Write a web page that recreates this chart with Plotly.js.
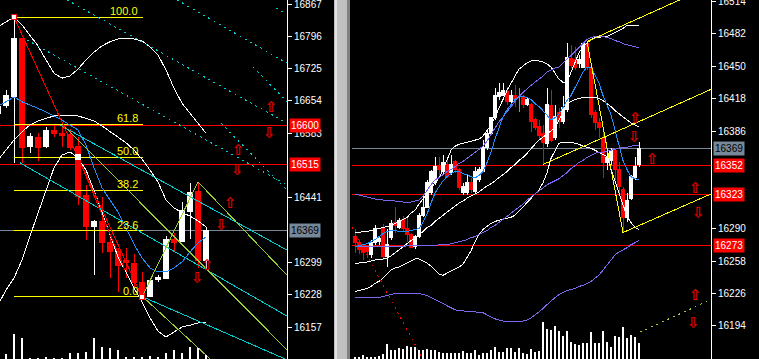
<!DOCTYPE html>
<html><head><meta charset="utf-8">
<script src="https://cdn.plot.ly/plotly-3.0.1.min.js"></script>
<style>html,body{margin:0;padding:0;background:#000;overflow:hidden}#chart{width:759px;height:359px}
#chart svg path{shape-rendering:crispEdges}</style>
</head><body><div id="chart"></div>
<script>
// ---------- LEFT PANEL (bar index -1..25) ----------
const L_idx = [-1,0,1,2,3,4,5,6,7,8,9,10,11,12,13,14,15,16,17,18,19,20,21,22,23,24,25];
const L_open  = [16627,16645,16663,16792,16553,16573,16553,16588,16583,16581,16553,16447,16377,16388,16342,16324,16304,16296,16254,16225,16262,16263,16350,16346,16412,16454,16304];
const L_high  = [16645,16678,16838,16792,16583,16583,16597,16601,16601,16592,16575,16469,16392,16443,16359,16331,16331,16318,16278,16260,16271,16357,16364,16432,16474,16476,16377];
const L_low   = [16623,16638,16518,16518,16540,16522,16551,16575,16553,16546,16425,16348,16271,16320,16265,16234,16265,16245,16223,16225,16256,16263,16324,16346,16350,16287,16287];
const L_close = [16641,16665,16792,16551,16575,16551,16588,16583,16579,16551,16443,16377,16388,16342,16322,16293,16298,16254,16228,16260,16265,16350,16342,16414,16452,16304,16369];
const L_vol   = [0,15,75,63,2,3,6,3,3,18,18,21,63,36,33,27,6,6,6,9,7,17,27,17,37,32,12];
const L_ma    = [16643,16652,16663,16652,16645,16638,16630,16621,16612,16601,16590,16557,16507,16463,16436,16410,16375,16339,16309,16287,16278,16278,16287,16300,16322,16342,16355];
const L_bbUp  = [16817,16827,16838,16821,16797,16775,16744,16715,16704,16709,16724,16744,16761,16775,16784,16790,16792,16790,16786,16773,16755,16722,16682,16649,16627,16605,16583];
const L_bbMid = [16524,16546,16568,16586,16601,16610,16616,16621,16623,16623,16621,16616,16610,16599,16586,16573,16562,16546,16526,16502,16476,16436,16419,16408,16401,16390,16377];
const L_bbLow = [16206,16238,16265,16304,16357,16408,16454,16507,16535,16542,16528,16502,16458,16410,16359,16311,16278,16243,16212,16177,16148,16135,16146,16157,16161,16166,16168];
const L_ticks = [16867,16796,16725,16654,16583,16441,16299,16228,16157];
const L_levels = [16600,16515];
const fibRatios = [1,0.618,0.5,0.382,0.236,0];
const L_zzIdx = [1,9,17];
const L_zzPrice = [16838,16531,16223];
const L_trendRed = [[[1,16838],[17,16223]], [[9,16531],[14.875,16282]]];
const L_trendGreen = [[[17,16223],[24,16476]], [[7.125,16601],[35.125,16107]], [[24,16476],[35.125,16271]], [[17.125,16223],[25.5,16087]]];
const L_cyanSolid = [[[6.75,16601],[35.125,16326]], [[1.75,16518],[35.125,16181]], [[17.125,16223],[35.125,16085]]];
const L_cyanDot = [[[7.625,16876],[35.125,16605]], [[21.375,16876],[35.125,16737]], [[2.625,16788],[35.125,16469]], [[30.875,16729],[35.125,16652]], [[26.875,16605],[35.125,16458]], [[33.75,16858],[35.125,16845]]];
const L_sigIdx = [33.125,32.875,29,28.875,28,26.875,25.125,23.875];
const L_sigPrice = [16641,16583,16546,16502,16429,16381,16293,16265];
const L_sigDir = ['up','down','up','down','up','down','up','down'];

// ---------- RIGHT PANEL (bar index 0..71) ----------
const R_idx = [];
for (let i = 0; i < 72; i++) R_idx.push(i);
const R_open = [16282,16276,16271,16272,16264,16276,16277,16291,16262,16281,
 16296,16291,16299,16290,16284,16272,16282,16303,16311,16325,
 16335,16351,16346,16353,16345,16356,16348,16325,16325,16335,
 16326,16338,16346,16370,16384,16399,16420,16421,16425,16415,
 16421,16420,16419,16412,16412,16397,16390,16384,16374,16411,
 16380,16404,16395,16407,16457,16456,16452,16449,16472,16449,
 16404,16394,16379,16355,16357,16367,16348,16328,16301,16320,
 16340,16353];
const R_high = [16290,16279,16273,16274,16279,16293,16283,16294,16290,16298,
 16311,16300,16302,16300,16286,16284,16305,16323,16338,16348,
 16360,16360,16362,16357,16362,16357,16350,16335,16343,16340,
 16351,16351,16377,16387,16400,16428,16433,16433,16429,16426,
 16431,16428,16421,16419,16414,16399,16397,16392,16428,16426,
 16412,16409,16420,16473,16471,16469,16461,16474,16474,16451,
 16407,16399,16387,16367,16369,16369,16355,16331,16325,16343,
 16360,16375];
const R_low = [16266,16265,16259,16261,16261,16274,16274,16259,16252,16279,
 16286,16290,16288,16277,16271,16270,16281,16301,16310,16323,
 16333,16340,16343,16340,16343,16345,16328,16323,16323,16325,
 16325,16336,16346,16367,16382,16397,16417,16420,16412,16414,
 16410,16405,16409,16411,16385,16387,16377,16353,16370,16375,
 16377,16389,16393,16405,16448,16446,16448,16448,16446,16399,
 16387,16379,16340,16348,16353,16338,16325,16286,16296,16318,
 16338,16351];
const R_close = [16276,16269,16266,16267,16276,16290,16280,16262,16274,16295,
 16293,16298,16290,16284,16271,16282,16303,16311,16335,16346,
 16351,16348,16355,16341,16353,16348,16330,16331,16335,16328,
 16346,16348,16370,16384,16399,16421,16424,16426,16415,16421,
 16417,16420,16412,16417,16395,16389,16382,16375,16412,16377,
 16400,16395,16409,16458,16451,16449,16456,16472,16449,16402,
 16394,16389,16355,16360,16367,16348,16331,16301,16318,16341,
 16351,16369];
const R_vol = [5,5,12,5,7,7,9,15,45,27, 27,33,29,39,35,37,27,27,29,27,
 27,20,17,19,19,17,19,24,17,19, 27,13,17,19,27,35,21,21,33,32,
 21,32,19,15,29,21,25,111,89,87, 99,84,69,84,51,44,42,47,49,80,
 49,49,85,50,37,68,65,96,63,71, 67,47];
const R_ma = [16272,16273,16274,16275,16277,16279,16282,16285,16287,16288,
 16288,16287,16287,16287,16288,16289,16290,16296,16304,16315,
 16325,16331,16337,16341,16344,16346,16346,16344,16343,16341,
 16340,16342,16346,16355,16365,16378,16390,16400,16407,16412,
 16417,16420,16420,16419,16417,16413,16410,16406,16402,16397,
 16399,16403,16409,16416,16421,16429,16437,16444,16449,16449,
 16441,16433,16421,16412,16402,16387,16372,16357,16348,16341,
 16339,16338];
const R_bbUp = [16286,16286,16287,16287,16288,16289,16290,16291,16292,16293,
 16295,16297,16299,16301,16305,16308,16314,16319,16324,16329,
 16335,16340,16348,16357,16367,16371,16373,16374,16375,16376,
 16377,16378,16381,16386,16392,16400,16408,16417,16426,16433,
 16441,16447,16450,16453,16455,16455,16455,16454,16452,16449,
 16443,16437,16434,16434,16444,16454,16463,16469,16473,16476,
 16478,16478,16479,16479,16481,16483,16485,16487,16490,16490,
 16490,16490];
const R_bbMid = [16256,16256,16257,16257,16258,16259,16259,16260,16261,16263,
 16266,16269,16272,16275,16278,16281,16284,16287,16291,16293,
 16297,16300,16303,16306,16309,16312,16315,16317,16320,16322,
 16324,16326,16329,16332,16334,16337,16340,16343,16346,16350,
 16353,16357,16360,16364,16369,16373,16377,16380,16383,16386,
 16389,16397,16405,16413,16415,16417,16418,16419,16419,16419,
 16419,16418,16416,16413,16410,16406,16403,16400,16397,16394,
 16392,16390];
const R_bbLow = [16228,16229,16230,16231,16233,16236,16238,16241,16245,16249,
 16251,16252,16254,16256,16258,16260,16260,16258,16256,16253,
 16249,16245,16244,16246,16248,16250,16252,16255,16261,16268,
 16277,16284,16289,16292,16295,16297,16298,16299,16300,16301,
 16303,16307,16311,16315,16319,16323,16328,16335,16345,16359,
 16367,16374,16375,16375,16375,16374,16373,16371,16370,16369,
 16367,16365,16363,16361,16348,16336,16324,16313,16302,16296,
 16291,16289];
const R_env1 = [16324,16323,16322,16321,16320,16319,16319,16318,16318,16318,
 16317,16317,16316,16316,16316,16317,16318,16322,16328,16333,
 16338,16340,16343,16346,16348,16351,16354,16356,16359,16362,
 16365,16368,16371,16376,16383,16389,16395,16400,16406,16411,
 16416,16420,16424,16428,16431,16434,16437,16440,16444,16446,
 16448,16449,16453,16457,16460,16464,16468,16472,16476,16478,
 16479,16479,16479,16478,16477,16475,16474,16472,16471,16470,
 16469,16468];
const R_env2 = [16272,16272,16272,16272,16272,16272,16272,16272,16272,16272,
 16272,16272,16272,16273,16273,16273,16273,16273,16273,16273,
 16273,16274,16274,16274,16275,16276,16277,16278,16279,16281,
 16282,16284,16286,16288,16291,16293,16296,16299,16302,16305,
 16308,16311,16314,16318,16321,16324,16327,16330,16333,16335,
 16337,16339,16342,16345,16349,16352,16355,16357,16360,16362,
 16364,16365,16365,16366,16367,16368,16369,16370,16370,16371,
 16372,16372];
const R_env3 = [16222,16222,16222,16222,16222,16222,16222,16223,16224,16225,
 16226,16226,16226,16226,16226,16226,16226,16225,16224,16222,
 16220,16218,16216,16214,16212,16210,16209,16209,16208,16208,
 16208,16207,16207,16205,16203,16201,16200,16199,16198,16198,
 16198,16198,16199,16200,16202,16205,16208,16211,16215,16219,
 16222,16225,16227,16229,16230,16231,16233,16234,16236,16238,
 16241,16244,16249,16254,16260,16264,16267,16269,16271,16274,
 16276,16278];
const R_ticks = [16514,16482,16450,16418,16386,16290,16258,16226,16194];
const R_levels = [16352,16323,16273];
const R_yellow = [[[58,16474],[67,16286]], [[58,16474],[89,16529]], [[47,16353],[89,16427]], [[67,16286],[89,16324]]];
const R_redDot = [[-0.75,16291],[16.75,16163]];
const R_greenDot = [[71.25,16188],[89,16220]];
const R_sigIdx = [70,69.75,74.25,85,85.75,85,84.5];
const R_sigPrice = [16399,16380,16358,16330,16305,16225,16197];
const R_sigDir = ['up','down','up','up','down','up','down'];

// ---------- BUILD ----------
const W = 759;
const FONT = 'Liberation Sans, Arial, sans-serif';
function seg(xa, ya, pts, color, dash) {
  return {type:'scatter', mode:'lines', x:pts.map(p=>p[0]), y:pts.map(p=>p[1]),
    xaxis:xa, yaxis:ya, line:{color:color, width:1, dash:dash||'solid'}, hoverinfo:'skip'};
}
function line(xa, ya, x, y, color) {
  return {type:'scatter', mode:'lines', x:x, y:y, xaxis:xa, yaxis:ya,
    line:{color:color, width:1}, hoverinfo:'skip'};
}
function candles(xa, ya, x, o, h, l, c) {
  return {type:'candlestick', x:x, open:o, high:h, low:l, close:c, xaxis:xa, yaxis:ya,
    increasing:{line:{color:'#ffffff', width:1}, fillcolor:'#ffffff'},
    decreasing:{line:{color:'#ff0000', width:1}, fillcolor:'#ff0000'},
    whiskerwidth:0, hoverinfo:'skip'};
}
const traces = [];
// left
traces.push(candles('x','y', L_idx, L_open, L_high, L_low, L_close));
const fibHigh = Math.max(...L_high), fibLow = Math.min(...L_low);
const fibX = [L_zzIdx[0], L_zzIdx[2] + 0.125];
fibRatios.forEach(r => traces.push(line('x','y', fibX, [fibLow + r*(fibHigh-fibLow), fibLow + r*(fibHigh-fibLow)], '#ffff00')));
traces.push(line('x','y', L_idx, L_bbUp, '#ffffff'));
traces.push(line('x','y', L_idx, L_bbMid, '#ffffff'));
traces.push(line('x','y', L_idx, L_bbLow, '#ffffff'));
traces.push(line('x','y', L_idx, L_ma, '#1e90ff'));
L_cyanSolid.forEach(p => traces.push(seg('x','y', p, '#00ced1')));
L_cyanDot.forEach(p => traces.push(seg('x','y', p, '#00ced1', '2px,4px')));
L_trendGreen.forEach(p => traces.push(seg('x','y', p, '#9acd32')));
L_trendRed.forEach(p => traces.push(seg('x','y', p, '#ff0000')));
traces.push({type:'scatter', mode:'markers', x:L_zzIdx, y:L_zzPrice, xaxis:'x', yaxis:'y',
  marker:{symbol:'square', size:5, color:'#ffffff', line:{color:['#ff0000','#ffffff','#ff0000'], width:1}}, hoverinfo:'skip'});
traces.push({type:'bar', x:L_idx, y:L_vol, xaxis:'x', yaxis:'y3', width:0.14,
  marker:{color:'#ffffff', line:{width:0}}, hoverinfo:'skip'});
// right
traces.push(candles('x2','y2', R_idx, R_open, R_high, R_low, R_close));
const dIdx = R_idx.filter(i => R_open[i] === R_close[i]);
traces.push({type:'candlestick', x:dIdx, open:dIdx.map(i=>R_open[i]), high:dIdx.map(i=>R_high[i]),
  low:dIdx.map(i=>R_low[i]), close:dIdx.map(i=>R_close[i]), xaxis:'x2', yaxis:'y2',
  increasing:{line:{color:'#00ff00', width:1}, fillcolor:'#00ff00'},
  decreasing:{line:{color:'#00ff00', width:1}, fillcolor:'#00ff00'}, whiskerwidth:0, hoverinfo:'skip'});
traces.push(line('x2','y2', R_idx, R_bbUp, '#ffffff'));
traces.push(line('x2','y2', R_idx, R_bbMid, '#ffffff'));
traces.push(line('x2','y2', R_idx, R_bbLow, '#ffffff'));
traces.push(line('x2','y2', R_idx, R_env1, '#7b68ee'));
traces.push(line('x2','y2', R_idx, R_env2, '#7b68ee'));
traces.push(line('x2','y2', R_idx, R_env3, '#7b68ee'));
traces.push(line('x2','y2', R_idx, R_ma, '#1e90ff'));
R_yellow.forEach(p => traces.push(seg('x2','y2', p, '#ffff00')));
traces.push(seg('x2','y2', R_redDot, '#ff0000', '2px,4px'));
traces.push(seg('x2','y2', R_greenDot, '#9acd32', '2px,4px'));
traces.push({type:'bar', x:R_idx, y:R_vol, xaxis:'x2', yaxis:'y4', width:0.28,
  marker:{color:'#ffffff', line:{width:0}}, hoverinfo:'skip'});

// shapes: horizontal levels and separator
const shapes = [];
const L_cur = L_close[L_close.length-1], R_cur = R_close[R_close.length-1];
L_levels.forEach(v => shapes.push({type:'line', xref:'x domain', yref:'y', x0:0, x1:1, y0:v, y1:v, line:{color:'#ff0000', width:1}, layer:'below'}));
shapes.push({type:'line', xref:'x domain', yref:'y', x0:0, x1:1, y0:L_cur, y1:L_cur, line:{color:'#778899', width:1}, layer:'below'});
R_levels.forEach(v => shapes.push({type:'line', xref:'x2 domain', yref:'y2', x0:0, x1:1, y0:v, y1:v, line:{color:'#ff0000', width:1}, layer:'below'}));
shapes.push({type:'line', xref:'x2 domain', yref:'y2', x0:0, x1:1, y0:R_cur, y1:R_cur, line:{color:'#778899', width:1}, layer:'below'});
shapes.push({type:'rect', xref:'paper', yref:'paper', x0:334/W, x1:350/W, y0:0, y1:1, fillcolor:'#c0c0c0', line:{width:0}, layer:'above'});
shapes.push({type:'rect', xref:'paper', yref:'paper', x0:335/W, x1:337/W, y0:0, y1:1, fillcolor:'#e4e4e4', line:{width:0}, layer:'above'});
shapes.push({type:'rect', xref:'paper', yref:'paper', x0:347/W, x1:350/W, y0:0, y1:1, fillcolor:'#808080', line:{width:0}, layer:'above'});

// annotations
const ann = [];
fibRatios.forEach(r => ann.push({xref:'x', yref:'y', x:16.75, y:fibLow + r*(fibHigh-fibLow), text:(r*100).toFixed(1),
  showarrow:false, xanchor:'right', yanchor:'bottom', yshift:-2, font:{family:FONT, size:11, color:'#ffff00'}}));
function box(xpx, yref, v, bg, fg) {
  return {xref:'paper', yref:yref, x:xpx/W, y:v, text:String(v), showarrow:false, xanchor:'left', yanchor:'middle',
    bgcolor:bg, borderpad:1, font:{family:FONT, size:10, color:fg}};
}
L_levels.forEach(v => ann.push(box(289,'y', v, '#ff0000', '#ffffff')));
ann.push(box(289,'y', L_cur, '#778899', '#000000'));
R_levels.forEach(v => ann.push(box(713,'y2', v, '#ff0000', '#ffffff')));
ann.push(box(713,'y2', R_cur, '#778899', '#000000'));
function sig(xa, ya, x, y, d) {
  return {xref:xa, yref:ya, x:x, y:y, text: '<b>' + (d === 'up' ? '\u21E7' : '\u21E9') + '</b>', showarrow:false,
    xanchor:'center', yanchor:'middle', font:{family:'DejaVu Sans', size:15, color:'#e00000'}};
}
L_sigIdx.forEach((x,i) => ann.push(sig('x','y', x, L_sigPrice[i], L_sigDir[i])));
R_sigIdx.forEach((x,i) => ann.push(sig('x2','y2', x, R_sigPrice[i], R_sigDir[i])));

const yBase = {side:'right', showgrid:false, zeroline:false, showline:true, linecolor:'#ffffff', linewidth:1,
  ticks:'outside', ticklen:4, tickcolor:'#ffffff', tickwidth:1, ticklabeloverflow:'allow',
  tickfont:{family:FONT, size:10, color:'#ffffff'}, fixedrange:true};
const layout = {
  width:759, height:359, margin:{l:0, r:0, t:0, b:0}, paper_bgcolor:'#000000', plot_bgcolor:'#000000',
  showlegend:false, boxgap:0.3, boxgroupgap:0, barmode:'overlay',
  xaxis:{domain:[0, 287/W], range:[-0.75, 35.125], visible:false, rangeslider:{visible:false}, fixedrange:true},
  xaxis2:{domain:[352/W, 711/W], range:[-0.75, 89], visible:false, rangeslider:{visible:false}, fixedrange:true},
  yaxis:Object.assign({}, yBase, {anchor:'x', domain:[0,1], range:[16086.7, 16875.8], tickvals:L_ticks, ticktext:L_ticks.map(String)}),
  yaxis2:Object.assign({}, yBase, {anchor:'x2', domain:[0,1], range:[16161.5, 16515], tickvals:R_ticks, ticktext:R_ticks.map(String)}),
  yaxis3:{overlaying:'y', anchor:'x', range:[0,1077], visible:false, fixedrange:true},
  yaxis4:{overlaying:'y2', anchor:'x2', range:[0,1077], visible:false, fixedrange:true},
  shapes:shapes, annotations:ann
};
Plotly.newPlot('chart', traces, layout, {displayModeBar:false, staticPlot:true});
</script></body></html>
